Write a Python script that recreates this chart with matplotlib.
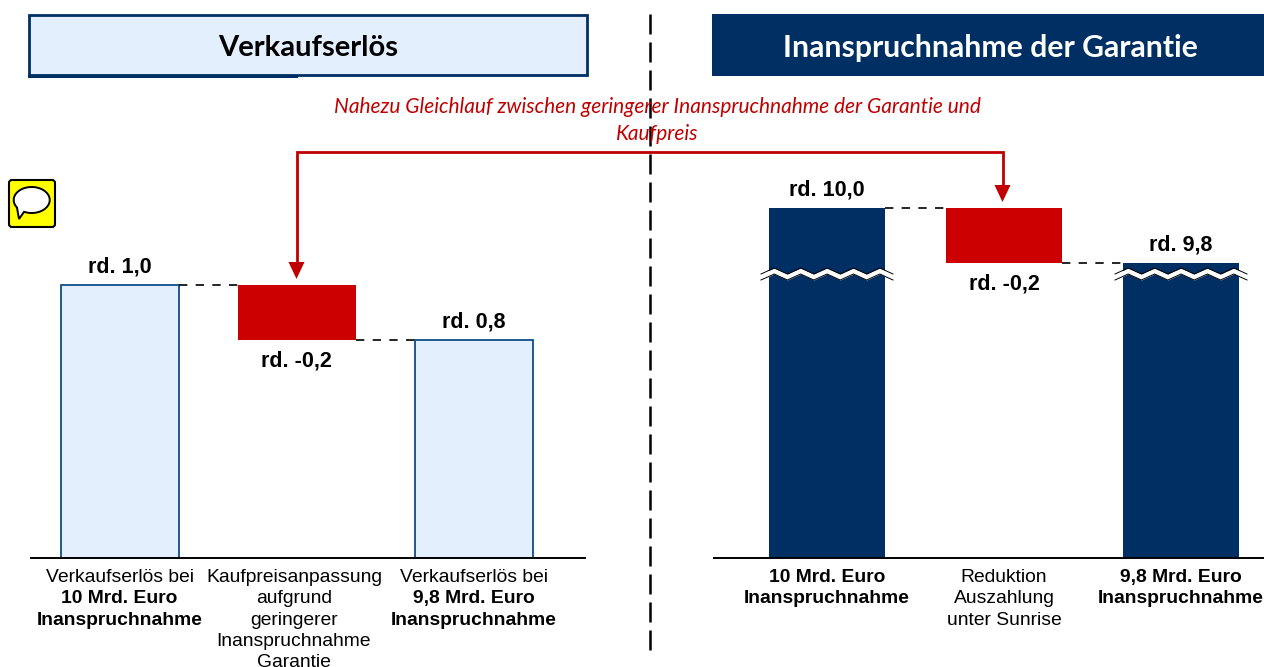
# Verkaufserlös / Inanspruchnahme der Garantie
import matplotlib
matplotlib.use("Agg")
import matplotlib.pyplot as plt
from matplotlib.patches import FancyBboxPatch, Rectangle
import numpy as np

# Daten
left_tops = [1.0, 1.0, 0.8]
left_bottoms = [0, 0.8, 0]
left_values = ["rd. 1,0", "rd. -0,2", "rd. 0,8"]
right_tops = [10.0, 10.0, 9.8]
right_bottoms = [0, 9.8, 0]
right_values = ["rd. 10,0", "rd. -0,2", "rd. 9,8"]

left_labels = [
    [("Verkaufserlös bei", "normal"), ("10 Mrd. Euro", "bold"), ("Inanspruchnahme", "bold")],
    [("Kaufpreisanpassung", "normal"), ("aufgrund", "normal"), ("geringerer", "normal"),
     ("Inanspruchnahme", "normal"), ("Garantie", "normal")],
    [("Verkaufserlös bei", "normal"), ("9,8 Mrd. Euro", "bold"), ("Inanspruchnahme", "bold")],
]
right_labels = [
    [("10 Mrd. Euro", "bold"), ("Inanspruchnahme", "bold")],
    [("Reduktion", "normal"), ("Auszahlung", "normal"), ("unter Sunrise", "normal")],
    [("9,8 Mrd. Euro", "bold"), ("Inanspruchnahme", "bold")],
]

W, H = 1264, 667
NAVY = "#003063"
EDGE = "#0F4C8A"
LIGHT = "#E3EFFD"
RED = "#CC0000"
LINE_RED = "#C00000"

plt.rcParams["font.family"] = ["Liberation Sans", "DejaVu Sans"]
fig = plt.figure(figsize=(W / 100, H / 100), dpi=100)

# Hintergrund in Pixelkoordinaten
bg = fig.add_axes([0, 0, 1, 1])
bg.set_xlim(0, W)
bg.set_ylim(H, 0)
bg.axis("off")


def make_axes(x0, x1, y_top, y_base, ylim):
    ax = fig.add_axes([x0 / W, 1 - y_base / H, (x1 - x0) / W, (y_base - y_top) / H])
    ax.set_xlim(x0, x1)
    ax.set_ylim(*ylim)
    ax.patch.set_alpha(0)
    for s in ["top", "left", "right"]:
        ax.spines[s].set_visible(False)
    ax.spines["bottom"].set_linewidth(1.4)
    ax.set_yticks([])
    ax.set_xticks([])
    return ax


# linke Achse: 1,0 = 273 px, rechte Achse abgeschnitten (Bruch): 0,2 = 55 px
ax_l = make_axes(31, 585, 100, 558, (0, 458 / 273))
ax_r = make_axes(714, 1264, 100, 558, (10 - 350 * 0.2 / 55, 10 + 108 * 0.2 / 55))


def draw_group(ax, xs, tops, bottoms, width, color, edge, lw):
    for i, x in enumerate(xs):
        if i == 1:
            ax.bar(x, tops[i] - bottoms[i], width, bottom=bottoms[i], color=RED, linewidth=0)
        else:
            ax.bar(x, tops[i] - bottoms[i], width, bottom=bottoms[i], color=color, edgecolor=edge, linewidth=lw)
    # gestrichelte Verbindungen
    ax.plot([xs[0] + width / 2, xs[1] - width / 2], [tops[0], tops[1]], color="black", lw=1.2, ls=(0, (5, 5)))
    ax.plot([xs[1] + width / 2, xs[2] - width / 2], [tops[2], tops[2]], color="black", lw=1.2, ls=(0, (5, 5)))


xs_l = [119.5, 296.5, 473.5]
xs_r = [827, 1004, 1181]
label_xs_l = [119.5, 294, 473.5]
draw_group(ax_l, xs_l, left_tops, left_bottoms, 118, LIGHT, EDGE, 1.3)
draw_group(ax_r, xs_r, right_tops, right_bottoms, 116, NAVY, NAVY, 0)

# Wertbeschriftungen
for ax, xs, tops, bottoms, vals in [(ax_l, xs_l, left_tops, left_bottoms, left_values),
                                    (ax_r, xs_r, right_tops, right_bottoms, right_values)]:
    for i, x in enumerate(xs):
        if i == 1:
            ax.annotate(vals[i], (x, bottoms[i]), xytext=(0, -7.5), textcoords="offset points",
                        ha="center", va="top", fontsize=15.5, fontweight="bold")
        else:
            ax.annotate(vals[i], (x, tops[i]), xytext=(0, 5.3), textcoords="offset points",
                        ha="center", va="bottom", fontsize=15.5, fontweight="bold")

# Kategorien
for xs, labels in [(label_xs_l, left_labels), (xs_r, right_labels)]:
    for x, lines in zip(xs, labels):
        for j, (txt, weight) in enumerate(lines):
            bg.text(x, 582 + j * 21.3, txt, ha="center", va="baseline", fontsize=13.9, fontweight=weight,
                    clip_on=False)

# Kopfzeilen
bg.add_patch(Rectangle((29, 15), 558, 60, facecolor=LIGHT, edgecolor=NAVY, linewidth=2))
bg.plot([29, 296], [75.6, 75.6], color=NAVY, lw=2.2)
bg.add_patch(Rectangle((712, 14), 552, 62, facecolor=NAVY, edgecolor="none"))
bg.text(308, 47.5, "Verkaufserlös", ha="center", va="center", fontsize=21, fontweight="bold",
        family=["Lato", "DejaVu Sans"], color="black")
bg.text(990, 47.5, "Inanspruchnahme der Garantie", ha="center", va="center", fontsize=21.7, fontweight="bold",
        family=["Lato", "DejaVu Sans"], color="white")

# Trennlinie
bg.plot([650, 650], [14, 652], color="black", lw=1.8, ls=(0, (8, 3.2)))

# Hinweis in Rot
bg.text(657, 107, "Nahezu Gleichlauf zwischen geringerer Inanspruchnahme der Garantie und", ha="center",
        va="center", fontsize=15, style="italic", color=LINE_RED, family=["Lato", "DejaVu Sans"])
bg.text(657, 134, "Kaufpreis", ha="center", va="center", fontsize=15, style="italic", color=LINE_RED,
        family=["Lato", "DejaVu Sans"])

# Klammerpfeil
bg.plot([296.5, 296.5, 1002.5, 1002.5], [265, 152, 152, 188], color=LINE_RED, lw=2, solid_joinstyle="miter")
for x, y in [(296.5, 279), (1002.5, 202)]:
    bg.fill([x - 8, x + 8, x], [y - 17, y - 17, y], color=LINE_RED, lw=0)

# Sprechblasen-Symbol
bg.add_patch(FancyBboxPatch((9, 180), 46, 47, boxstyle="round,pad=0,rounding_size=3",
                            facecolor="#FFFF00", edgecolor="black", linewidth=1.5))
t = np.radians(np.linspace(145, 115 + 360, 120))
bubble_x = np.append(31.7 + 18 * np.cos(t), 19)
bubble_y = np.append(200 + 13 * np.sin(t), 219)
bg.fill(bubble_x, bubble_y, facecolor="white", edgecolor="black", linewidth=1.4, zorder=3)

# Achsenbruch (Zickzack)
top = fig.add_axes([0, 0, 1, 1], facecolor="none")
top.set_xlim(0, W)
top.set_ylim(H, 0)
top.axis("off")
for x_start in [761, 1115]:
    zx = x_start + np.arange(11) * 13.2
    zy = 274 + np.where(np.arange(11) % 2 == 0, 3, -3)
    top.fill_between(zx, zy - 3, zy + 3, color="white", lw=0)
    top.plot(zx, zy - 3, color="black", lw=0.7)
    top.plot(zx, zy + 3, color="black", lw=0.7)

fig.savefig("out.png", dpi=100)
